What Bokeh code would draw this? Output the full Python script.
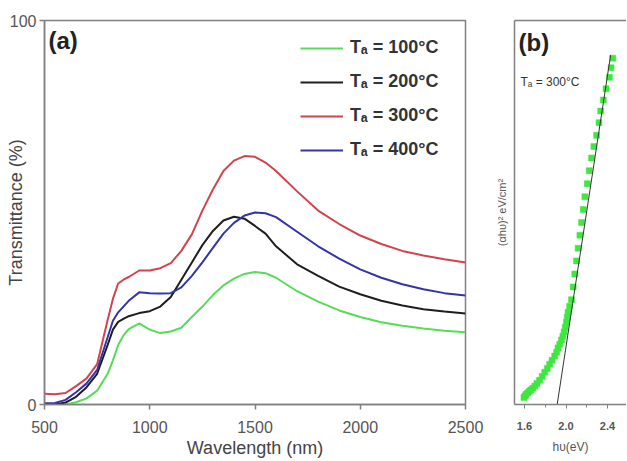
from bokeh.plotting import figure
from bokeh.models import (Legend, LegendItem, Label, FixedTicker, LinearAxis, Range1d,
                          PrintfTickFormatter)
from bokeh.layouts import row
from bokeh.embed import file_html
from bokeh.resources import INLINE

# ---------------- data: panel (a) ----------------
wavelength = [500, 550, 600, 650, 700, 750, 800, 825, 850, 875, 900, 950, 1000, 1050,
              1100, 1150, 1200, 1250, 1300, 1350, 1400, 1450, 1500, 1550, 1600, 1700,
              1800, 1900, 2000, 2100, 2200, 2300, 2400, 2500]
t100 = [0.0, 0.0, 0.0, 0.6, 1.6, 3.6, 8.0, 11.5, 15.5, 18.0, 19.6, 21.1, 19.5, 18.6,
        19.0, 20.0, 22.8, 25.5, 28.5, 31.0, 32.8, 34.0, 34.5, 34.2, 33.0, 29.5,
        26.8, 24.5, 22.8, 21.4, 20.5, 19.8, 19.2, 18.8]
t200 = [0.0, 0.0, 0.5, 2.0, 4.5, 8.0, 15.5, 19.5, 21.5, 22.3, 23.0, 23.8, 24.3, 25.5,
        28.0, 32.5, 37.0, 41.5, 45.2, 47.9, 48.9, 48.4, 46.5, 44.5, 41.2, 36.5,
        33.5, 30.7, 28.7, 27.0, 25.8, 24.8, 24.2, 23.7]
t300 = [2.8, 2.7, 3.0, 4.8, 6.8, 10.5, 22.0, 27.5, 31.5, 32.5, 33.2, 34.9, 34.9, 35.5,
        36.8, 40.0, 44.3, 50.5, 56.0, 60.8, 63.5, 64.7, 64.5, 63.0, 60.8, 55.5,
        50.5, 47.0, 44.0, 41.8, 40.0, 38.8, 37.8, 37.0]
t400 = [0.3, 0.4, 1.2, 3.2, 5.5, 9.0, 17.5, 21.8, 24.0, 25.5, 27.0, 29.2, 29.0, 28.9,
        29.0, 30.5, 33.5, 37.0, 40.8, 44.5, 47.3, 49.2, 50.0, 49.8, 48.8, 45.0,
        41.2, 38.0, 35.2, 33.0, 31.3, 30.0, 29.0, 28.4]
legend_labels = ["Tₐ = 100°C", "Tₐ = 200°C", "Tₐ = 300°C", "Tₐ = 400°C"]
x_ticks_a = [500, 1000, 1500, 2000, 2500]
y_ticks_a = [0, 100]

# ---------------- data: panel (b) ----------------
energy = [1.595, 1.605, 1.615, 1.63, 1.645, 1.66, 1.68, 1.70, 1.72, 1.745, 1.77, 1.795,
          1.82, 1.843, 1.865, 1.891, 1.91, 1.923, 1.94, 1.956, 1.97, 1.982, 1.993, 2.004,
          2.012, 2.020, 2.035, 2.053, 2.069, 2.085, 2.101, 2.117, 2.134, 2.150, 2.166,
          2.182, 2.205, 2.224, 2.247, 2.269, 2.295, 2.318, 2.334, 2.360, 2.386, 2.418,
          2.434, 2.451]
ahv2 = [1.8, 2.2, 2.6, 3.0, 3.4, 3.8, 4.2, 4.8, 5.5, 6.3, 7.3, 8.4,
        9.4, 10.5, 11.5, 12.6, 13.6, 14.7, 15.7, 16.8, 17.8, 18.9, 20.1, 21.4,
        22.7, 24.0, 25.6, 27.3, 30.6, 34.0, 37.4, 40.7, 44.1, 47.4, 50.8,
        54.1, 57.5, 60.9, 64.2, 67.2, 70.1, 73.4, 76.4, 79.3, 82.2, 85.2,
        87.7, 90.2]
fit_energy = [1.915, 2.43]
fit_ahv2 = [0.0, 91.0]
x_ticks_b = [1.6, 2.0, 2.4]
x_minor_b = [1.8, 2.2]

FONT = "Liberation Sans"
AX = "#808080"
TXT = "#555555"

# ---------------- panel (a) ----------------
pa = figure(width=485, height=460, output_backend="svg", toolbar_location=None,
            x_range=Range1d(500, 2500), y_range=Range1d(0, 100),
            min_border_left=44, min_border_right=20, min_border_top=20, min_border_bottom=56)
pa.grid.visible = False
pa.outline_line_color = AX
pa.outline_line_width = 1.5

cols = ["#55dd55", "#1e1e1e", "#d2434e", "#3434aa"]
rs = []
for ys, c in zip([t100, t200, t300, t400], cols):
    rs.append(pa.line(wavelength, ys, line_color=c, line_width=2))

for ax in (pa.xaxis[0], pa.yaxis[0]):
    ax.axis_line_color = AX
    ax.axis_line_width = 1.5
    ax.major_tick_line_color = AX
    ax.major_tick_line_width = 1.5
    ax.major_tick_out = 5
    ax.major_tick_in = 0
    ax.minor_tick_line_color = None
    ax.major_label_text_font = FONT
    ax.major_label_text_font_size = "16px"
    ax.major_label_text_color = TXT
    ax.axis_label_text_font = FONT
    ax.axis_label_text_font_size = "18px"
    ax.axis_label_text_font_style = "normal"
    ax.axis_label_text_color = "#444444"
pa.xaxis.ticker = FixedTicker(ticks=x_ticks_a)
pa.yaxis.ticker = FixedTicker(ticks=y_ticks_a)
pa.xaxis.major_label_standoff = 11
pa.yaxis.major_label_standoff = 3
pa.xaxis.axis_label = "Wavelength (nm)"
pa.xaxis.axis_label_standoff = 2
pa.yaxis.axis_label = "Transmittance (%)"
pa.yaxis.axis_label_standoff = -19

pa.add_layout(Label(x=500, y=100, x_offset=4, y_offset=-6, text="(a)",
                    text_align="left", text_baseline="top",
                    text_font=FONT, text_font_size="24px", text_font_style="bold",
                    text_color="#222222"))

legend = Legend(items=[LegendItem(label=l, renderers=[r]) for l, r in zip(legend_labels, rs)],
                location=(256, 244), orientation="vertical",
                background_fill_alpha=0, border_line_color=None,
                padding=0, margin=0, spacing=13, glyph_width=43, glyph_height=20,
                label_height=20, label_standoff=7,
                label_text_font=FONT, label_text_font_size="18px",
                label_text_font_style="bold", label_text_color="#333333")
pa.add_layout(legend, "center")

# ---------------- panel (b) ----------------
pb = figure(width=141, height=460, output_backend="svg", toolbar_location=None,
            x_range=Range1d(1.5036, 2.583), y_range=Range1d(0, 100),
            min_border_left=29, min_border_right=0, min_border_top=17, min_border_bottom=56)
pb.grid.visible = False
pb.outline_line_color = None
pb.scatter(energy, ahv2, marker="square", size=6, fill_color="#3ee83e",
           line_color="#3ee83e", line_width=0.5)
pb.line(fit_energy, fit_ahv2, line_color="#333333", line_width=1)

pb.xaxis.ticker = FixedTicker(ticks=x_ticks_b, minor_ticks=x_minor_b)
pb.xaxis.formatter = PrintfTickFormatter(format="%.1f")
pb.yaxis.ticker = FixedTicker(ticks=[])
pb.yaxis.major_label_text_font_size = "0px"
pb.yaxis.major_label_standoff = 0
for ax in (pb.xaxis[0], pb.yaxis[0]):
    ax.axis_line_color = AX
    ax.axis_line_width = 1.5
    ax.major_tick_line_color = AX
    ax.major_tick_out = 4
    ax.major_tick_in = 0
    ax.minor_tick_line_color = AX
    ax.minor_tick_out = 3
    ax.minor_tick_in = 0
    ax.axis_label_text_font = FONT
    ax.axis_label_text_font_style = "normal"
    ax.axis_label_text_color = TXT
pb.yaxis.major_tick_out = 0
pb.yaxis.minor_tick_out = 0
pb.xaxis.major_label_text_font = FONT
pb.xaxis.major_label_text_font_size = "11px"
pb.xaxis.major_label_text_font_style = "bold"
pb.xaxis.major_label_text_color = TXT
pb.xaxis.major_label_standoff = 13
pb.xaxis.axis_label = "hυ(eV)"
pb.xaxis.axis_label_text_font_size = "12px"
pb.xaxis.axis_label_standoff = 7
pb.yaxis.axis_label = "(αhυ)² eV/cm²"
pb.yaxis.axis_label_text_font_size = "11px"
pb.yaxis.axis_label_standoff = 7

top_axis = LinearAxis(ticker=FixedTicker(ticks=[]), major_label_text_font_size="0px",
                      major_label_standoff=0, axis_line_color=AX, axis_line_width=1.5)
pb.add_layout(top_axis, "above")

pb.add_layout(Label(x=1.5036, y=100, x_offset=4, y_offset=-8, text="(b)",
                    text_align="left", text_baseline="top",
                    text_font=FONT, text_font_size="24px", text_font_style="bold",
                    text_color="#222222"))
pb.add_layout(Label(x=1.5036, y=100, x_offset=6, y_offset=-54, text="Tₐ = 300°C",
                    text_align="left", text_baseline="top",
                    text_font=FONT, text_font_size="12px",
                    text_color="#333333"))

layout = row(pa, pb)
open("out.html", "w").write(file_html(layout, INLINE))
